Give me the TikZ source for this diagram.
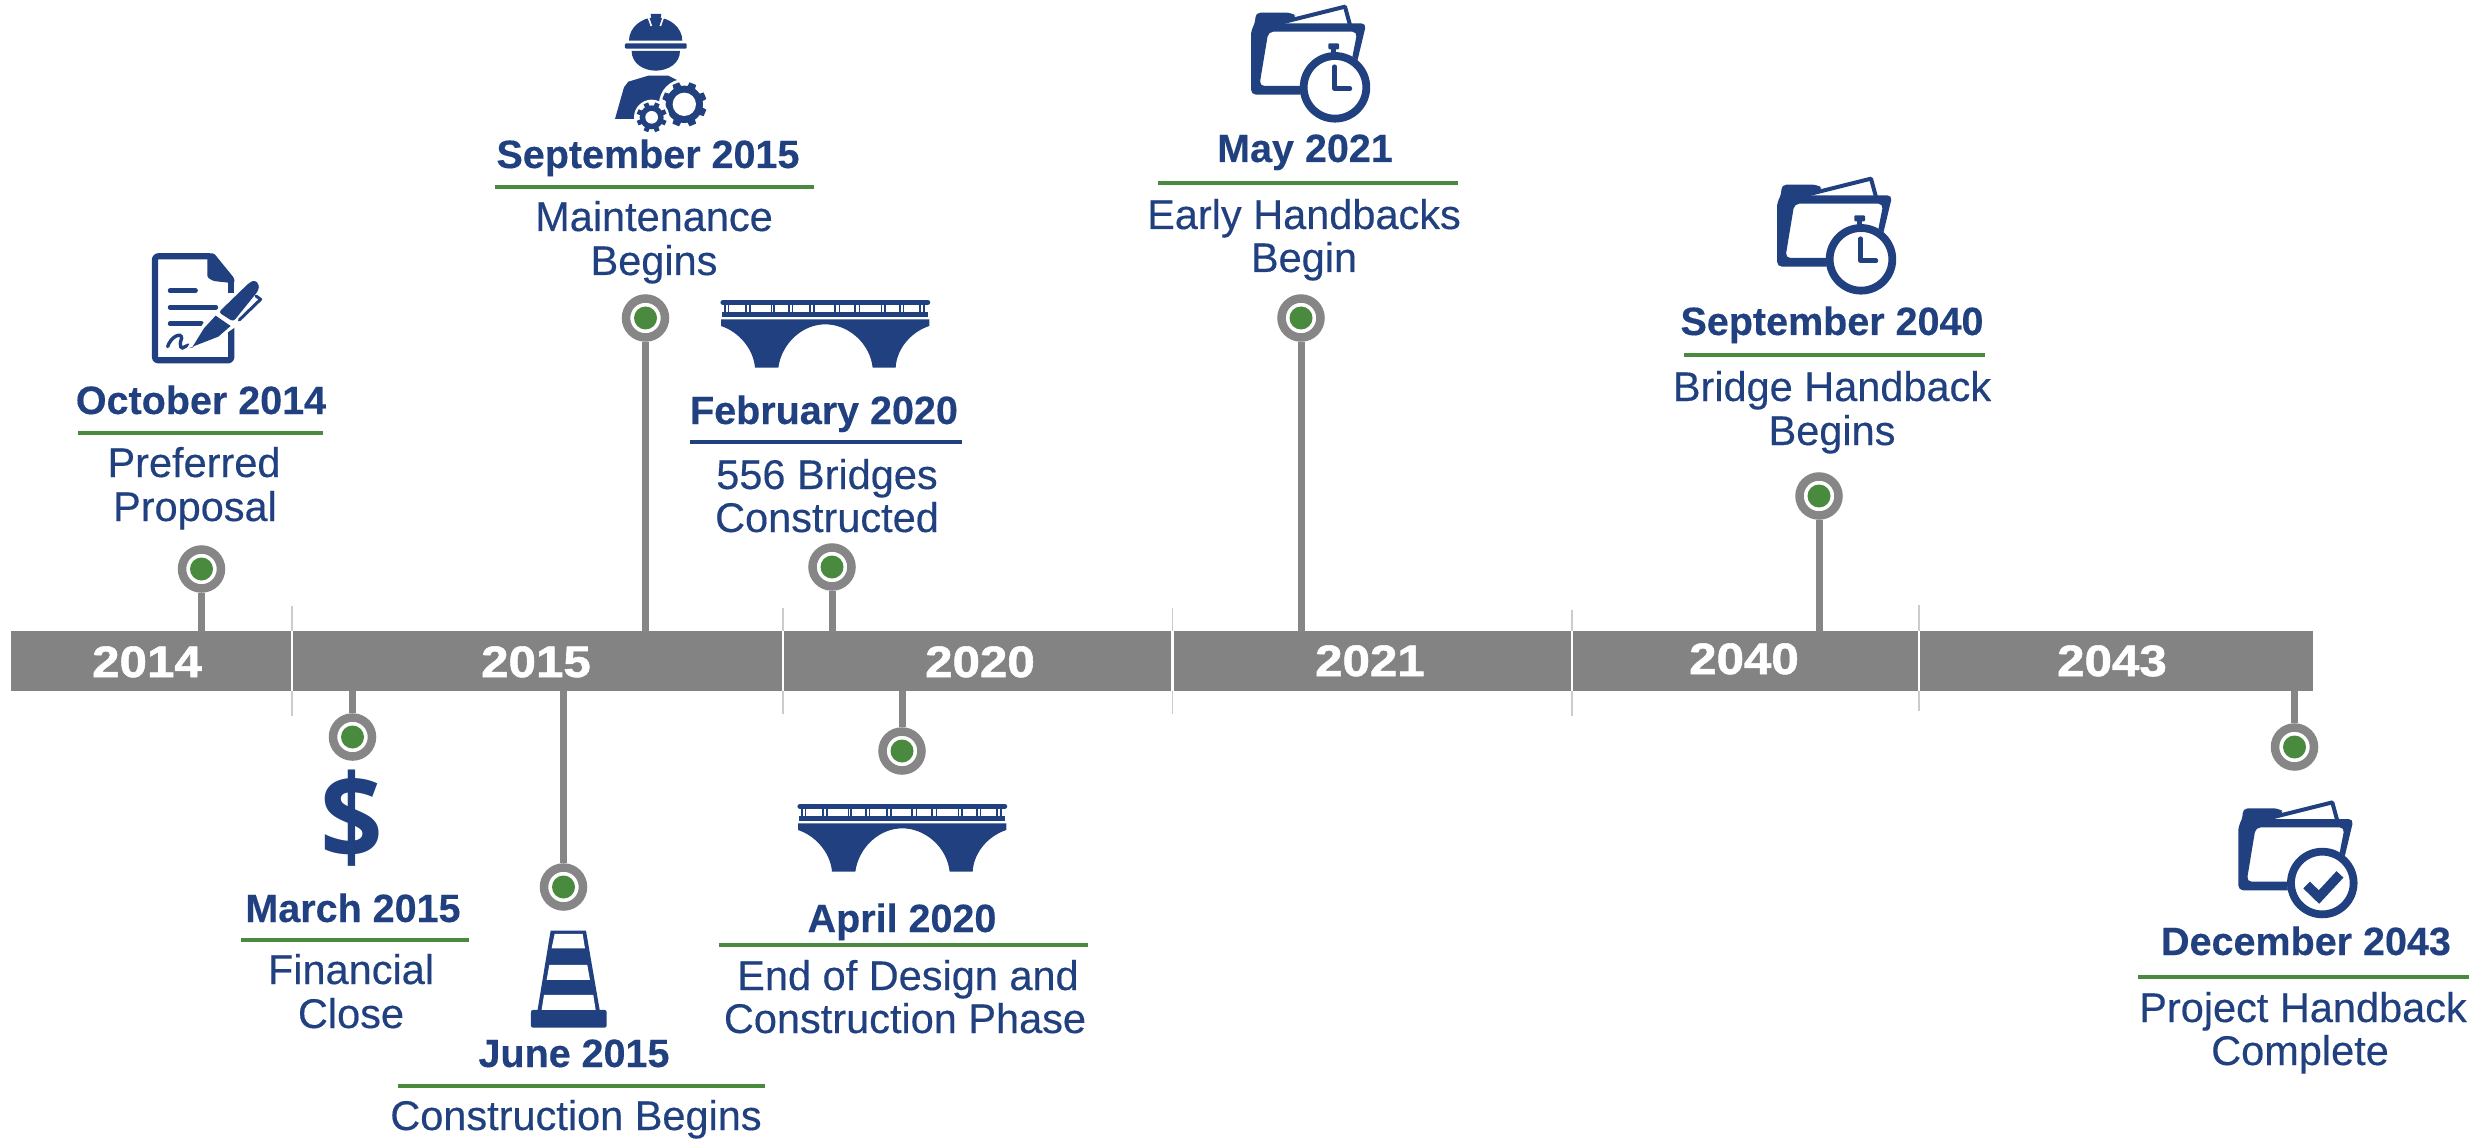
\documentclass[tikz,border=0pt]{standalone}
\usepackage{fontspec}
\setmainfont{Liberation Sans}[FakeBold=0.35]
\newfontfamily\datefont{Liberation Sans Bold}[FakeBold=0.3]
\newfontfamily\yearfont{Liberation Sans Bold}[FakeBold=1.2]
\newfontfamily\dollarfont{Open Sans}
\definecolor{navy}{HTML}{20407F}
\definecolor{leaf}{HTML}{4A8A3E}
\definecolor{pingray}{HTML}{868686}
\definecolor{bargray}{HTML}{838383}
\tikzset{
  dateline/.style={anchor=base,inner sep=0,yshift=-1pt,text=navy,font=\datefont\fontsize{39.5}{43}\selectfont},
  descline/.style={anchor=base,inner sep=0,yshift=-1pt,text=navy,font=\fontsize{41.5}{43}\selectfont},
  yearlabel/.style={anchor=base,inner sep=0,text=white,xscale=1.12,font=\yearfont\fontsize{44}{44}\selectfont},
  greenrule/.style={draw=leaf,line width=3.2pt},
  navyrule/.style={draw=navy,line width=3.2pt},
  pin/.style={circle,draw=pingray,fill=white,line width=8.5pt,minimum size=39pt,inner sep=0pt,
     path picture={\fill[leaf] (path picture bounding box.center) circle[radius=11.5pt];}},
  stem/.style={draw=pingray,line width=7pt},
  sep/.style={draw=black!20,line width=1.5pt},
}
% icons are drawn in the 3x coordinates of their own crop
\newcommand{\bridgeicon}[2]{%
 \begin{scope}[shift={(#1,#2)},x=0.3333pt,y=-0.3333pt]
  \draw[navy,line width=5.2pt,line cap=round] (9,67)--(623,67);
  \fill[navy] (5,97) rectangle (625,112);
  \foreach \q in {15,25,78,90,155,162,207,217,270,282,345,358,405,418,485,495,540,550,600,612}
    \draw[navy,line width=1.3pt] (\q,70)--(\q,100);
  \fill[navy] (3,118)--(628,118)--(628,138) .. controls (575,155) and (530,205) .. (527,263)
    -- (458,263) .. controls (450,190) and (385,133) .. (316,133)
    .. controls (247,133) and (185,190) .. (175,263) -- (105,263)
    .. controls (100,205) and (55,155) .. (3,138) -- cycle;
 \end{scope}}
\newcommand{\foldershape}{%
  \fill[navy,even odd rule,rounded corners=5pt]
    (153,284)--(153,90)--(166,70)--(166,38)--(275,38)--(292,52)--(235,70)--(499,70)--(468,200)--(440,284)--cycle
    (205,95)--(472,95)--(440,258)--(178,258)--cycle;
  \draw[navy,line width=4pt,line join=round] (235,70)--(435,20)--(450,75);
  \fill[white] (405,262) circle (105);
  \draw[navy,line width=7.8pt] (405,262) circle (94);}
\newcommand{\clockfolder}[2]{%
 \begin{scope}[shift={(#1,#2)},x=0.3333pt,y=-0.3333pt]
  \foldershape
  \fill[navy,rounded corners=1pt] (385,130) rectangle (417,148);
  \fill[navy] (394,146) rectangle (408,162);
  \draw[navy,line width=4.4pt,line cap=round,line join=round] (404,200)--(404,266)--(450,266);
 \end{scope}}
\newcommand{\checkfolder}[2]{%
 \begin{scope}[shift={(#1,#2)},x=0.3333pt,y=-0.3333pt]
  \foldershape
  \draw[navy,line width=9.5pt] (358,268)--(395,304)--(458,236);
 \end{scope}}
\newcommand{\gearicon}[6]{% cx cy rtooth rbody rhole halo
 \begin{scope}[shift={(#1,#2)}]
  \fill[white] (0,0) circle (#6);
  \fill[navy] (0,0) circle (#4);
  \foreach \a in {0,45,...,315}
    \fill[navy] (\a+22.5-13:#4-2) -- (\a+22.5-9:#3) -- (\a+22.5+9:#3) -- (\a+22.5+13:#4-2) -- cycle;
  \fill[white] (0,0) circle (#5);
 \end{scope}}
\begin{document}
\begin{tikzpicture}[x=1pt,y=-1pt]
\useasboundingbox (0,0) rectangle (2470,1139);
% bar
\fill[bargray] (11,631) rectangle (2313,691);
\foreach \sx/\ya/\yb in {292/606/716,783/608/714,1172.5/608/714,1572/610/716,1919/605/711}{
  \draw[sep] (\sx,\ya)--(\sx,\yb);
  \draw[white,line width=2.4pt] (\sx,631)--(\sx,691);
}
\node[yearlabel] (y14) at (147,677) {2014};
\node[yearlabel] (y15) at (536,677) {2015};
\node[yearlabel] (y20) at (980,677) {2020};
\node[yearlabel] (y21) at (1370,676) {2021};
\node[yearlabel] (y40) at (1744,674) {2040};
\node[yearlabel] (y43) at (2112,676) {2043};
% pins and stems
\foreach \pname/\px/\py/\sy in {
  pa/201.5/569/632, pb/645.5/318/632, pc/832/567/632, pd/1301/318/632,
  pe/1819/496/632, pf/352.5/737/690, pg/563.5/887/690, ph/902/751/690, pi/2294.5/747/690}{
  \coordinate (\pname end) at (\px,\sy);
  \node[pin] (\pname) at (\px,\py) {};
  \draw[stem] (\pname) -- (\pname end);
}
% October 2014
\node[dateline] (d1) at (201,413) {October 2014};
\draw[greenrule] (78,433)--(323,433);
\node[descline] (t1a) at (194,476) {Preferred};
\node[descline] (t1b) at (195,520) {Proposal};
% September 2015
\node[dateline] (d2) at (648,167) {September 2015};
\draw[greenrule] (495,187)--(814,187);
\node[descline] (t2a) at (654,230) {Maintenance};
\node[descline] (t2b) at (654,274) {Begins};
% February 2020
\node[dateline] (d3) at (824,423) {February 2020};
\draw[navyrule] (690,442)--(962,442);
\node[descline] (t3a) at (827,488) {556 Bridges};
\node[descline] (t3b) at (827,531) {Constructed};
% May 2021
\node[dateline] (d4) at (1305,161) {May 2021};
\draw[greenrule] (1158,183)--(1458,183);
\node[descline] (t4a) at (1304,228) {Early Handbacks};
\node[descline] (t4b) at (1304,271) {Begin};
% September 2040
\node[dateline] (d5) at (1832,334) {September 2040};
\draw[greenrule] (1684,355)--(1985,355);
\node[descline] (t5a) at (1832,400) {Bridge Handback};
\node[descline] (t5b) at (1832,444) {Begins};
% March 2015
\node[dateline] (d6) at (353,921) {March 2015};
\draw[greenrule] (241,940)--(469,940);
\node[descline] (t6a) at (351,983) {Financial};
\node[descline] (t6b) at (351,1027) {Close};
% June 2015
\node[dateline] (d7) at (574,1066) {June 2015};
\draw[greenrule] (398,1086)--(765,1086);
\node[descline] (t7a) at (576,1129) {Construction Begins};
% April 2020
\node[dateline] (d8) at (902,931) {April 2020};
\draw[greenrule] (719,945)--(1088,945);
\node[descline] (t8a) at (908,989) {End of Design and};
\node[descline] (t8b) at (905,1032) {Construction Phase};
% December 2043
\node[dateline] (d9) at (2306,954) {December 2043};
\draw[greenrule] (2138,977)--(2469,977);
\node[descline] (t9a) at (2303,1021) {Project Handback};
\node[descline] (t9b) at (2300,1064) {Complete};
% dollar
\node[anchor=base,inner sep=0,xscale=0.93,text=navy,font=\dollarfont\fontsize{118}{118}\selectfont\bfseries] (dollar) at (352,859) {\$};
% document and pen
\begin{scope}[shift={(0,200)},x=0.3333pt,y=-0.3333pt]
  \draw[navy,line width=6.2pt,line join=round,rounded corners=3pt] (630,169)--(465,169)--(465,481)--(694,481)--(694,360);
  \draw[navy,line width=6.2pt] (694,240)--(694,278);
  \fill[navy,rounded corners=1.5pt] (622,160)--(642,160)--(703,235)--(703,250)--(640,243)--(622,232)--cycle;
  \draw[navy,line width=4.4pt,line cap=round] (510,272)--(587,272) (510,322)--(648,322) (510,371)--(605,371);
  \draw[navy,line width=3.4pt,line cap=round] (503,440) .. controls (512,410) and (545,395) .. (545,415)
     .. controls (535,440) and (545,450) .. (555,440) .. controls (562,432) and (565,438) .. (578,438);
  \fill[white] (560,445)--(610,370)--(750,235)--(800,270)--(790,305)--(715,375)--(650,420)--cycle;
  \fill[navy] (578,440)--(612,385)--(647,347)--(692,378)--(655,410)--cycle;
  \fill[navy,rounded corners=3pt] (656,337)--(748,248)--(765,240)--(778,255)--(775,272)--(700,365)--cycle;
  \draw[navy,line width=3pt,line cap=round,line join=round] (718,360)--(782,298)--(768,288);
\end{scope}
% worker with gears
\begin{scope}[shift={(480,0)},x=0.3333pt,y=-0.3333pt]
  \fill[navy] (447,122) .. controls (447,84) and (483,52) .. (527,52) .. controls (571,52) and (607,84) .. (607,122) -- cycle;
  \draw[white,line width=1.6pt] (505,52)--(514,78) (550,52)--(541,78);
  \fill[navy] (512,42)--(544,42)--(538,75)--(518,75)--cycle;
  \fill[navy,rounded corners=1pt] (435,130) rectangle (620,146);
  \fill[navy] (455,153)--(600,153) .. controls (600,190) and (565,212) .. (527,212) .. controls (490,212) and (455,190) .. (455,153) -- cycle;
  \fill[navy] (405,357)--(432,262)--(445,245)--(505,227)--(565,227)--(600,245)--(560,300)--(470,357)--cycle;
  \gearicon{613}{313}{68}{56}{35}{76}
  \gearicon{515}{352}{46}{36}{19}{53}
\end{scope}
% bridges
\bridgeicon{720}{280}
\bridgeicon{797}{784}
% folders
\clockfolder{1200}{0}
\clockfolder{1726}{172}
\checkfolder{2187.3}{795.7}
% cone
\begin{scope}[shift={(280,680)},x=0.3333pt,y=-0.3333pt]
  \fill[navy] (812,752)--(918,752)--(960,995)--(772,995)--cycle;
  \fill[navy,rounded corners=2pt] (753,1043)--(753,990)--(980,990)--(980,1043)--cycle;
  \fill[white] (824,762)--(908,762)--(915,805)--(815,805)--cycle;
  \fill[white] (808,855)--(922,855)--(930,900)--(800,900)--cycle;
  \fill[white] (792,945)--(940,945)--(947,990)--(785,990)--cycle;
\end{scope}
\end{tikzpicture}
\end{document}
